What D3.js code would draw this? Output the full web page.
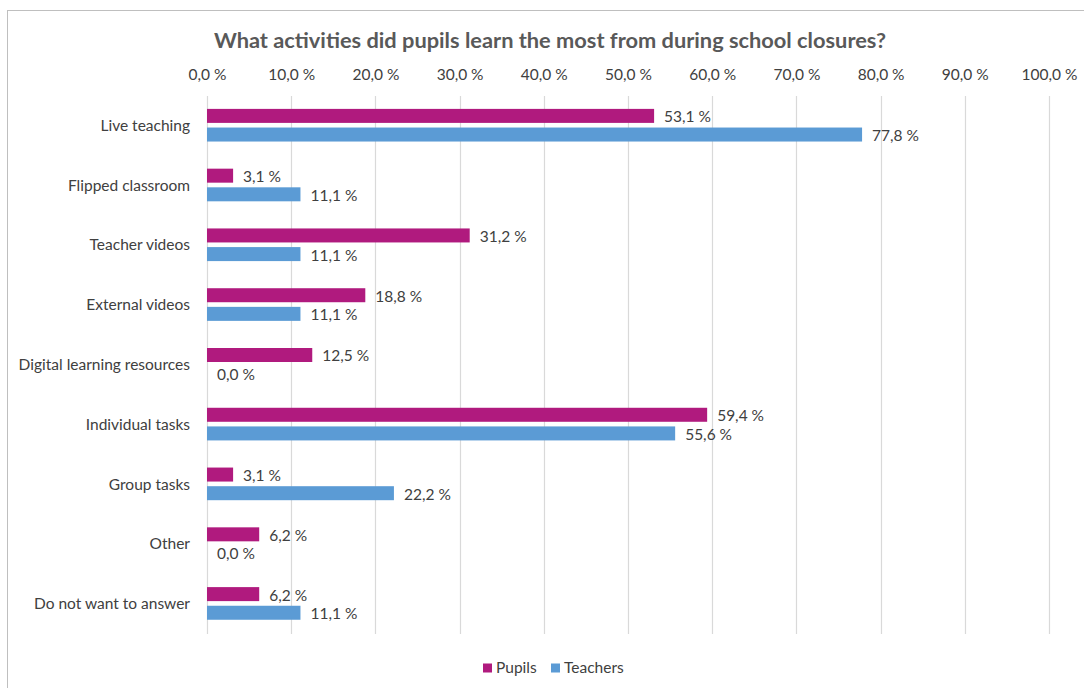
<!DOCTYPE html>
<html>
<head>
<meta charset="utf-8">
<script src="https://cdn.jsdelivr.net/npm/d3@7"></script>
<style>
  html, body { margin: 0; padding: 0; background: #fff; }
  svg { display: block; font-family: Lato, "Open Sans", sans-serif; }
</style>
</head>
<body>
<svg id="chart" width="1084" height="688"></svg>
<script>
// Survey answers, share of respondents in percent
const categories = [
  "Live teaching",
  "Flipped classroom",
  "Teacher videos",
  "External videos",
  "Digital learning resources",
  "Individual tasks",
  "Group tasks",
  "Other",
  "Do not want to answer"
];
const pupils   = [53.1, 3.1, 31.2, 18.8, 12.5, 59.4, 3.1, 6.2, 6.2];
const teachers = [77.8, 11.1, 11.1, 11.1, 0.0, 55.6, 22.2, 0.0, 11.1];
const seriesNames = ["Pupils", "Teachers"];
const tickValues = [0, 10, 20, 30, 40, 50, 60, 70, 80, 90, 100];

const colors = { Pupils: "#B01A7E", Teachers: "#5B9BD5" };
const textColor = "#404040";
const fontSize = 15.5;

const svg = d3.select("#chart");
const plot = { left: 207, right: 1049, top: 96, bottom: 634 };

const fmt = v => d3.format(".1f")(v).replace(".", ",") + " %";

// Outer frame
svg.append("rect")
  .attr("x", 7.5).attr("y", 10.5)
  .attr("width", 1090).attr("height", 700)
  .attr("fill", "#fff").attr("stroke", "#BFBFBF").attr("stroke-width", 1);

// Title
svg.append("text")
  .attr("x", 550).attr("y", 48)
  .attr("text-anchor", "middle")
  .attr("fill", "#595959")
  .attr("font-weight", "bold")
  .attr("font-size", 21.8)
  .text("What activities did pupils learn the most from during school closures?");

const x = d3.scaleLinear().domain([0, 100]).range([plot.left, plot.right]);
const y = d3.scaleBand().domain(categories).range([plot.top, plot.bottom]).paddingInner(0).paddingOuter(0);
const barH = 14, barGap = 6;
const groupH = barH * 2 + barGap;
const ySeries = d3.scaleBand().domain(seriesNames).range([0, groupH]).paddingInner(barGap / groupH);

// Vertical gridlines
svg.append("g")
  .selectAll("line")
  .data(tickValues)
  .join("line")
  .attr("x1", d => Math.round(x(d)) + 0.5)
  .attr("x2", d => Math.round(x(d)) + 0.5)
  .attr("y1", plot.top).attr("y2", plot.bottom)
  .attr("stroke", "#D9D9D9").attr("stroke-width", 1.2);

// Top axis labels
const axis = d3.axisTop(x).tickValues(tickValues).tickFormat(fmt).tickSize(0).tickPadding(0);
const axisG = svg.append("g").attr("transform", `translate(0, 80)`).call(axis);
axisG.select(".domain").remove();
axisG.selectAll("text")
  .attr("fill", textColor)
  .attr("font-size", fontSize)
  .attr("font-family", "Lato, 'Open Sans', sans-serif");

// Category labels
const yAxis = d3.axisLeft(y).tickSize(0).tickPadding(0);
const yG = svg.append("g").attr("transform", `translate(190, 0)`).call(yAxis);
yG.select(".domain").remove();
yG.selectAll("text")
  .attr("fill", textColor)
  .attr("font-size", fontSize)
  .attr("font-family", "Lato, 'Open Sans', sans-serif");

// Bars
const rows = categories.map((c, i) => ({
  category: c,
  values: [
    { series: "Pupils", value: pupils[i] },
    { series: "Teachers", value: teachers[i] }
  ]
}));

const offset = (y.bandwidth() - groupH) / 2;
const groups = svg.append("g")
  .selectAll("g")
  .data(rows)
  .join("g")
  .attr("transform", d => `translate(0, ${y(d.category) + offset})`);

groups.selectAll("rect")
  .data(d => d.values)
  .join("rect")
  .attr("x", x(0))
  .attr("y", d => ySeries(d.series))
  .attr("width", d => x(d.value) - x(0))
  .attr("height", barH)
  .attr("fill", d => colors[d.series]);

groups.selectAll("text")
  .data(d => d.values)
  .join("text")
  .attr("x", d => x(d.value) + 10)
  .attr("y", d => ySeries(d.series) + barH / 2 + 1)
  .attr("dy", "0.35em")
  .attr("fill", textColor)
  .attr("font-size", fontSize)
  .text(d => fmt(d.value));

// Legend
const legend = svg.append("g").attr("transform", "translate(483, 668)");
const legendX = { Pupils: 0, Teachers: 68 };
const lg = legend.selectAll("g")
  .data(seriesNames)
  .join("g")
  .attr("transform", d => `translate(${legendX[d]}, 0)`);
lg.append("rect")
  .attr("x", 0).attr("y", -4.5)
  .attr("width", 9).attr("height", 9)
  .attr("fill", d => colors[d]);
lg.append("text")
  .attr("x", 13).attr("y", 0)
  .attr("dy", "0.35em")
  .attr("fill", textColor)
  .attr("font-size", fontSize)
  .text(d => d);
</script>
</body>
</html>
